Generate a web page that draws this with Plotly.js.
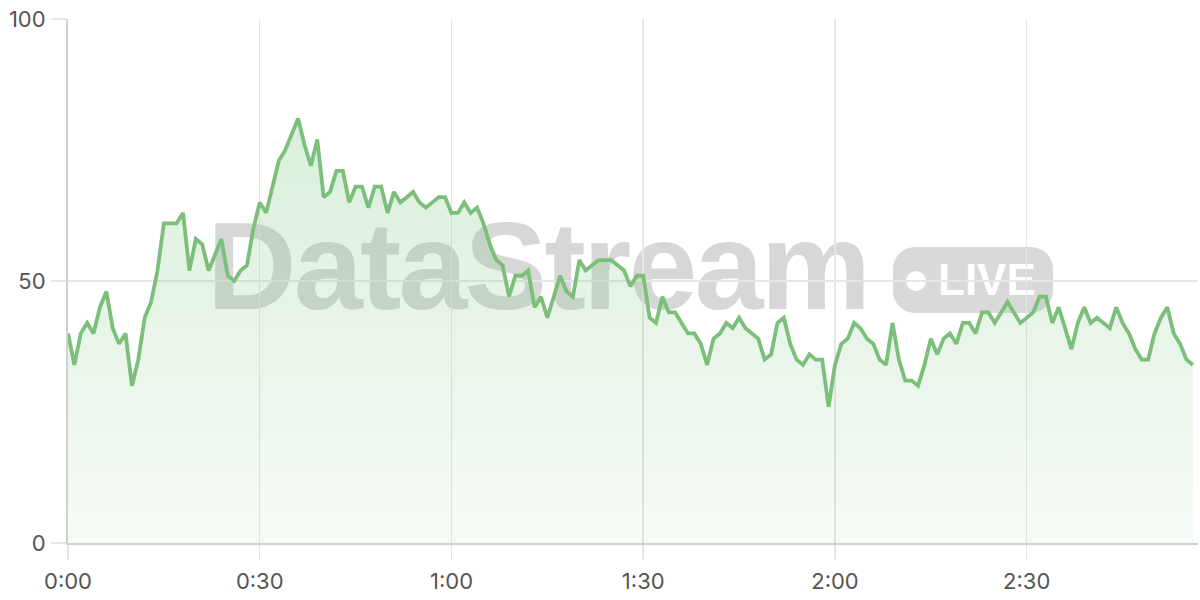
<!DOCTYPE html>
<html>
<head>
<meta charset="utf-8">
<script src="https://cdn.plot.ly/plotly-3.0.1.min.js"></script>
<style>
  html, body { margin: 0; padding: 0; background: #ffffff; }
  #wrap { position: relative; width: 1200px; height: 600px; }
  #watermark { position: absolute; left: 0; top: 0; width: 1200px; height: 600px; pointer-events: none; }
  #watermark .name {
    position: absolute; left: 207px; top: 196px;
    font-family: "Liberation Sans", Arial, sans-serif; font-weight: bold;
    font-size: 124px; letter-spacing: -2.8px; line-height: 140px;
    color: #d7d7d7; white-space: nowrap;
  }
  #watermark .pill {
    position: absolute; left: 893px; top: 247px; width: 160px; height: 66px;
    border-radius: 22px; background: #d9d9d9;
  }
  #watermark .dot {
    position: absolute; left: 13px; top: 24px; width: 20px; height: 20px;
    border-radius: 50%; background: #ffffff;
  }
  #watermark .live {
    position: absolute; left: 45px; top: 4px;
    font-family: "Liberation Sans", Arial, sans-serif; font-weight: bold;
    font-size: 44px; line-height: 58px; color: #ffffff;
  }
  #chart { position: absolute; left: 0; top: 0; width: 1200px; height: 600px; }
</style>
</head>
<body>
<div id="wrap">
  <div id="watermark">
    <div class="name">DataStream</div>
    <div class="pill"><div class="dot"></div><div class="live">LIVE</div></div>
  </div>
  <div id="chart"></div>
</div>
<script>
// one reading per minute
var values = [
    40, 34, 40, 42, 40, 45, 48, 41, 38, 40, 30, 35, 43, 46, 52, 61, 61, 61, 63, 52,
    58, 57, 52, 55, 58, 51, 50, 52, 53, 60, 65,
    63, 68, 73, 75, 78, 81, 76, 72, 77, 66, 67, 71, 71, 65, 68, 68, 64, 68, 68, 63,
    67, 65, 66, 67, 65, 64, 65, 66, 66, 63, 63,
    65, 63, 64, 61, 57, 54, 53, 47, 51, 51, 52, 45, 47, 43, 47, 51, 48, 47, 54, 52,
    53, 54, 54, 54, 53, 52, 49, 51, 51, 43,
    42, 47, 44, 44, 42, 40, 40, 38, 34, 39, 40, 42, 41, 43, 41, 40, 39, 35, 36, 42,
    43, 38, 35, 34, 36, 35, 35, 26, 34,
    38, 39, 42, 41, 39, 38, 35, 34, 42, 35, 31, 31, 30, 34, 39, 36, 39, 40, 38, 42,
    42, 40, 44, 44, 42, 44, 46, 44, 42, 43,
    44, 47, 47, 42, 45, 41, 37, 42, 45, 42, 43, 42, 41, 45, 42, 40, 37, 35, 35, 40,
    43, 45, 40, 38, 35, 34
];
var minutes = values.map(function (v, i) { return i; });

var tickMinutes = [0, 30, 60, 90, 120, 150];
var tickLabels = ['0:00', '0:30', '1:00', '1:30', '2:00', '2:30'];
var yTicks = [0, 50, 100];

var gridColor = '#e6e6e6';
var lineGreen = '#7cbf7b';

var trace = {
    x: minutes,
    y: values,
    type: 'scatter',
    mode: 'lines',
    line: { color: lineGreen, width: 3.8 },
    fill: 'tozeroy',
    fillgradient: {
        type: 'vertical',
        start: 0,
        stop: 82,
        colorscale: [[0, 'rgba(129,199,132,0.07)'], [1, 'rgba(129,199,132,0.3)']]
    },
    hoverinfo: 'skip'
};

var layout = {
    width: 1200,
    height: 600,
    paper_bgcolor: 'rgba(0,0,0,0)',
    plot_bgcolor: 'rgba(0,0,0,0)',
    margin: { t: 19, r: 2, b: 57, l: 68 },
    showlegend: false,
    font: { family: 'Inter, "Noto Sans", sans-serif', color: '#555555', size: 22 },
    xaxis: {
        range: [0, 176.8],
        tickvals: tickMinutes,
        ticktext: tickLabels,
        showgrid: true,
        gridcolor: gridColor,
        gridwidth: 1.5,
        ticks: 'outside',
        ticklen: 15,
        tickcolor: gridColor,
        tickwidth: 1.5,
        ticklabelstandoff: 3,
        showline: true,
        linecolor: '#d0d0d0',
        linewidth: 2,
        zeroline: false,
        fixedrange: true
    },
    yaxis: {
        range: [0, 100],
        tickvals: yTicks,
        showgrid: true,
        gridcolor: gridColor,
        gridwidth: 1.5,
        ticks: 'outside',
        ticklen: 15,
        tickcolor: gridColor,
        tickwidth: 1.5,
        ticklabelstandoff: 1,
        showline: true,
        linecolor: '#d0d0d0',
        linewidth: 2,
        zeroline: false,
        fixedrange: true
    }
};

Plotly.newPlot('chart', [trace], layout, { displayModeBar: false, staticPlot: true });
</script>
</body>
</html>
